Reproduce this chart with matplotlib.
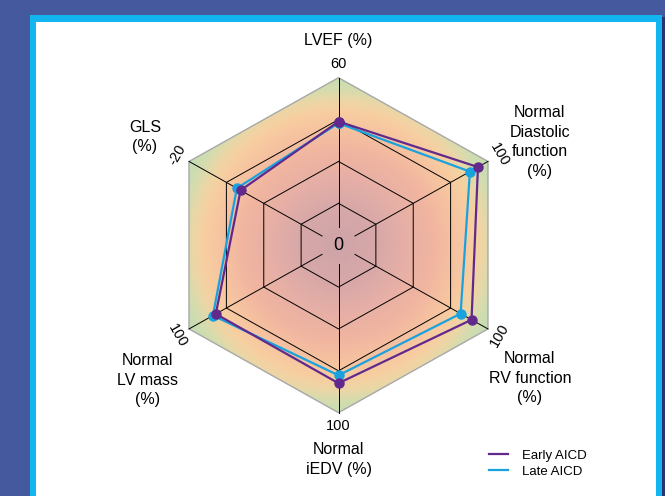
import numpy as np
import matplotlib.pyplot as plt
from matplotlib.patches import Polygon, Rectangle
from matplotlib.colors import LinearSegmentedColormap
from matplotlib.lines import Line2D

plt.rcParams['font.family'] = ['Liberation Sans', 'DejaVu Sans']

# --- datos ---
ejes = ['LVEF (%)', 'Normal\nDiastolic\nfunction\n(%)', 'Normal\nRV function\n(%)',
        'Normal\niEDV (%)', 'Normal\nLV mass\n(%)', 'GLS\n(%)']
maximos = [60, 100, 100, 100, 100, -20]
etiquetas_max = ['60', '100', '100', '100', '100', '-20']
early_aicd = [44.3, 93.3, 89.0, 82.4, 82.1, -13.1]
late_aicd = [43.7, 87.9, 81.7, 77.7, 84.0, -13.6]

# --- layout ---
angulos = np.deg2rad([90, 30, -30, -90, -150, 150])
rot_ticks = [0, -60, 60, 0, -60, 60]
pos_titulos = [(0.0, 1.225), (1.167, 0.616), (1.109, -0.793),
               (0.0, -1.28), (-1.109, -0.805), (-1.121, 0.646)]
morado = '#62298c'
celeste = '#1aa2df'

fig = plt.figure(figsize=(6.65, 4.96), dpi=100)
fig.patch.set_facecolor('#44599e')

# Marco del panel (en pixeles de figura)
def rect_px(x0, y0, x1, y1, color, z):
    fig.add_artist(Rectangle((x0 / 665, 1 - y1 / 496), (x1 - x0) / 665, (y1 - y0) / 496,
                             transform=fig.transFigure, facecolor=color, lw=0, zorder=z))

rect_px(32, 17, 665, 496, '#2a3470', -3)
rect_px(30, 15, 662, 496, '#12b5ef', -2)
rect_px(36, 22, 656, 496, 'white', -1)

ax = fig.add_axes([0, 0, 1, 1])
ax.set_zorder(1)
ax.patch.set_alpha(0)
ax.axis('off')

hx = np.cos(angulos)
hy = np.sin(angulos)

# Fondo con gradiente radial recortado al hexagono
cmap = LinearSegmentedColormap.from_list('fondo', [
    (0.0, '#cea4a8'), (0.24, '#d8a8a8'), (0.40, '#e6afa6'), (0.57, '#f1b5a0'),
    (0.70, '#f6c3a0'), (0.80, '#f8cea0'), (0.87, '#ecd6a6'), (0.93, '#d6dcae'),
    (1.0, '#c5deb2')])
xs = np.linspace(-1.05, 1.05, 500)
X, Y = np.meshgrid(xs, xs)
D = np.sqrt((X * 1.03) ** 2 + Y ** 2)
im = ax.imshow(D, extent=[-1.05, 1.05, -1.05, 1.05], origin='lower', cmap=cmap,
               vmin=0, vmax=1.0, aspect='auto', interpolation='bilinear', zorder=1)
hexa = Polygon(np.column_stack([hx, hy]), closed=True, transform=ax.transData,
               facecolor='none', edgecolor='#a8a8a8', lw=1.0, zorder=2)
ax.add_patch(hexa)
im.set_clip_path(hexa)

# Anillos y radios
for f in [0.25, 0.5, 0.75]:
    ax.plot(np.append(hx, hx[0]) * f, np.append(hy, hy[0]) * f, color='black', lw=0.7, zorder=3)
for a in angulos:
    ax.plot([0.11 * np.cos(a), np.cos(a)], [0.11 * np.sin(a), np.sin(a)],
            color='black', lw=0.7, zorder=3)

# Series
def poligono(valores):
    r = np.array(valores) / np.array(maximos)
    x = r * hx
    y = r * hy
    return np.append(x, x[0]), np.append(y, y[0])

for valores, color in [(late_aicd, celeste), (early_aicd, morado)]:
    x, y = poligono(valores)
    ax.plot(x, y, color=color, lw=1.6, marker='o', ms=6.5, zorder=4)

# Textos
for a, lab, rot in zip(angulos, etiquetas_max, rot_ticks):
    ax.text(1.08 * np.cos(a), 1.08 * np.sin(a), lab, rotation=rot, rotation_mode='anchor',
            ha='center', va='center', fontsize=10.5, zorder=5)
for (tx, ty), nombre in zip(pos_titulos, ejes):
    ax.text(tx, ty, nombre, ha='center', va='center', fontsize=11.5, linespacing=1.38, zorder=5)
ax.text(0, 0, '0', ha='center', va='center', fontsize=13, zorder=5)

handles = [Line2D([], [], color=morado, lw=1.6), Line2D([], [], color=celeste, lw=1.6)]
ax.legend(handles, ['Early AICD', 'Late AICD'], loc='upper left',
          bbox_to_anchor=(482 / 665, 1 - 443 / 496), bbox_transform=fig.transFigure,
          frameon=False, fontsize=9.5, borderpad=0, handlelength=1.5,
          handletextpad=1.0, labelspacing=0.3)

ax.set_xlim(-338.5 / 172.6, (665 - 338.5) / 172.6)
ax.set_ylim(-(496 - 245.2) / 167.5, 245.2 / 167.5)

fig.savefig('out.png', dpi=100, facecolor=fig.get_facecolor())
